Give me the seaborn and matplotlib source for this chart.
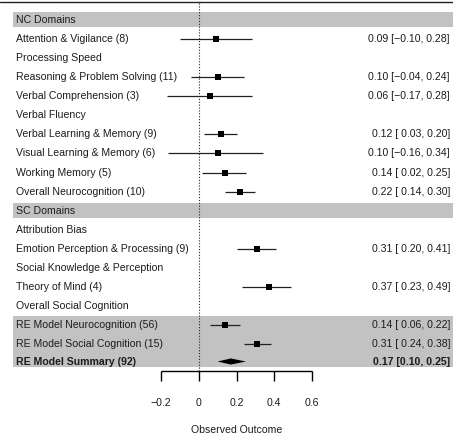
import numpy as np
import pandas as pd
import matplotlib
matplotlib.use("Agg")
import matplotlib.pyplot as plt
import matplotlib.transforms as mtrans
import seaborn as sns

# ---- data -------------------------------------------------------------
labels = [
    "NC Domains",
    "Attention & Vigilance (8)",
    "Processing Speed",
    "Reasoning & Problem Solving (11)",
    "Verbal Comprehension (3)",
    "Verbal Fluency",
    "Verbal Learning & Memory (9)",
    "Visual Learning & Memory (6)",
    "Working Memory (5)",
    "Overall Neurocognition (10)",
    "SC Domains",
    "Attribution Bias",
    "Emotion Perception & Processing (9)",
    "Social Knowledge & Perception",
    "Theory of Mind (4)",
    "Overall Social Cognition",
    "RE Model Neurocognition (56)",
    "RE Model Social Cognition (15)",
]
estimate = [np.nan, 0.09, np.nan, 0.10, 0.06, np.nan, 0.12, 0.10, 0.14, 0.22,
            np.nan, np.nan, 0.31, np.nan, 0.37, np.nan, 0.14, 0.31]
ci_low = [np.nan, -0.10, np.nan, -0.04, -0.17, np.nan, 0.03, -0.16, 0.02, 0.14,
          np.nan, np.nan, 0.20, np.nan, 0.23, np.nan, 0.06, 0.24]
ci_high = [np.nan, 0.28, np.nan, 0.24, 0.28, np.nan, 0.20, 0.34, 0.25, 0.30,
           np.nan, np.nan, 0.41, np.nan, 0.49, np.nan, 0.22, 0.38]
header_rows = ["NC Domains", "SC Domains"]

summary_label = "RE Model Summary (92)"
summary_est, summary_low, summary_high = 0.17, 0.10, 0.25

tick_values = [-0.2, 0, 0.2, 0.4, 0.6]
tick_labels = ["\u22120.2", "0", "0.2", "0.4", "0.6"]
xlabel = "Observed Outcome"

# ---- layout -----------------------------------------------------------
W, H = 453, 441
PX_PER_UNIT = 189.0
X0_PX = 198.7          # pixel column of effect = 0
ROW0_PX = 19.7         # pixel row of the first (header) line
ROW_PX = 19.1          # pixels between rows


def row_from_px(p):
    return (p - ROW0_PX) / ROW_PX


df = pd.DataFrame({"label": labels, "est": estimate, "lo": ci_low, "hi": ci_high})
df["row"] = np.arange(len(df), dtype=float)
summary_row = row_from_px(361.5)

sns.set_theme(style="white")
plt.rcParams["font.family"] = ["Liberation Sans", "DejaVu Sans"]
TXT = "#1c1c1c"
FS = 7.6

fig = plt.figure(figsize=(W / 100, H / 100), dpi=100)
ax = fig.add_axes([0, 0, 1, 1])
ax.set_xlim(-X0_PX / PX_PER_UNIT, (W - X0_PX) / PX_PER_UNIT)
ax.set_ylim(row_from_px(H), row_from_px(0))

band = "#c2c2c2"
left_frac = 13 / W
# grey bands for section headers and pooled models
for h in header_rows:
    r = df.loc[df["label"] == h, "row"].iloc[0]
    ax.axhspan(r - 0.42, r + 0.40, xmin=left_frac, xmax=1, color=band, lw=0, zorder=0)
re_rows = df.loc[df["label"].str.startswith("RE Model"), "row"]
ax.axhspan(re_rows.min() - 0.47, summary_row + 0.28, xmin=left_frac, xmax=1,
           color=band, lw=0, zorder=0)

# top rule and reference line at zero
ax.axhline(row_from_px(1.8), color="#222222", lw=1.0, zorder=1)
axis_row = row_from_px(371)
ax.plot([0, 0], [row_from_px(3), axis_row], color="#222222", lw=0.8,
        ls=(0, (1.0, 1.6)), zorder=1)

# confidence intervals and point estimates
est_df = df.dropna(subset=["est"])
ax.hlines(est_df["row"], est_df["lo"], est_df["hi"], color="#222222", lw=0.9, zorder=2)
sns.scatterplot(data=est_df, x="est", y="row", marker="s", s=16, color="black",
                linewidth=0, ax=ax, zorder=3, legend=False)
ax.set_xlabel("")
ax.set_ylabel("")
ax.set_axis_off()

# summary diamond
dh = 0.16
ax.fill([summary_low, summary_est, summary_high, summary_est],
        [summary_row, summary_row - dh, summary_row, summary_row + dh],
        color="black", lw=0, zorder=3)

# x axis
tick_end = row_from_px(381)
ax.plot([tick_values[0], tick_values[-1]], [axis_row, axis_row], color="black", lw=1.0,
        solid_capstyle="butt")
for tv, tl in zip(tick_values, tick_labels):
    ax.plot([tv, tv], [axis_row, tick_end], color="black", lw=1.0, solid_capstyle="butt")
    ax.text(tv, row_from_px(403), tl, ha="center", va="center", fontsize=FS, color=TXT)
ax.text(np.mean([tick_values[0], tick_values[-1]]), row_from_px(430), xlabel,
        ha="center", va="center", fontsize=FS, color=TXT)

# row labels and numeric annotations
tr_left = mtrans.blended_transform_factory(fig.transFigure, ax.transData)


def ci_text(e, lo, hi):
    low = f"{abs(lo):.2f}"
    low = ("\u2212" + low) if lo < 0 else (" " + low)
    return f"{e:.2f} [{low}, {hi:.2f}]"


for _, r in df.iterrows():
    ax.text(16 / W, r["row"], r["label"], transform=tr_left, ha="left", va="center",
            fontsize=FS, color=TXT)
    if not np.isnan(r["est"]):
        ax.text(450 / W, r["row"], ci_text(r["est"], r["lo"], r["hi"]), transform=tr_left,
                ha="right", va="center", fontsize=FS, color=TXT)

ax.text(16 / W, summary_row, summary_label, transform=tr_left, ha="left", va="center",
        fontsize=FS, color=TXT, fontweight="bold")
ax.text(450 / W, summary_row,
        f"{summary_est:.2f} [{summary_low:.2f}, {summary_high:.2f}]",
        transform=tr_left, ha="right", va="center", fontsize=FS, color=TXT,
        fontweight="bold")

fig.savefig("out.png", dpi=100)
